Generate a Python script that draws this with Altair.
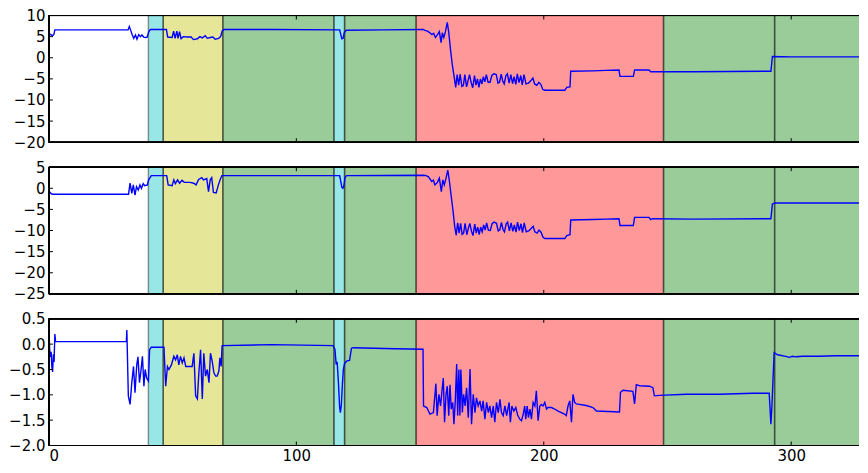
import altair as alt
import pandas as pd

# ---------------- data ----------------
x_ticks = [0, 100, 200, 300]

span_start = [40.2, 46.2, 70.3, 115.2, 119.5, 148.4, 248.4, 293.3]
span_end = [46.2, 70.3, 115.2, 119.5, 148.4, 248.4, 293.3, 340.0]
span_color = ["#99e6e6", "#e6e699", "#99cc99", "#99e6e6", "#99cc99", "#ff9999", "#99cc99", "#99cc99"]
edges = [40.2, 46.2, 70.3, 115.2, 119.5, 148.4, 248.4, 293.3,
         46.2, 70.3, 115.2, 119.5, 148.4, 248.4, 293.3]

p1_x = [0.0, 0.3, 1.0, 1.5, 2.0, 2.4, 10.0, 20.0, 32.0, 32.5, 33.0, 33.7, 34.3, 35.0, 35.6, 36.3, 37.0, 37.6,
        38.3, 39.0, 39.7, 40.4, 41.0, 47.5, 48.0, 49.8, 50.4, 51.0, 51.7, 52.2, 52.8, 53.4, 54.3, 55.9, 57.5,
        58.4, 60.0, 61.0, 62.0, 63.2, 64.0, 65.2, 66.3, 67.2, 68.6, 69.4, 70.0, 70.7, 90.0, 117.5, 118.0, 118.4,
        118.9, 119.4, 120.2, 135.0, 151.3, 152.0, 153.0, 154.0, 154.8, 155.5, 156.2, 157.0, 157.8, 158.5, 159.0,
        159.6, 160.3, 161.0, 161.6, 162.3, 163.0, 163.8, 164.4, 165.0, 165.6, 166.2, 166.9, 167.5, 168.1, 168.8,
        169.4, 170.0, 170.7, 171.3, 172.0, 172.6, 173.2, 173.8, 174.4, 175.0, 175.6, 176.2, 176.8, 177.5, 178.3,
        179.0, 179.8, 180.8, 181.5, 182.1, 182.8, 183.4, 184.0, 184.7, 185.3, 186.0, 186.7, 187.4, 188.0, 188.7,
        189.3, 190.0, 190.7, 191.3, 192.0, 192.8, 193.8, 194.8, 195.6, 196.3, 197.2, 198.0, 198.8, 199.6, 200.5,
        208.5, 209.3, 210.6, 210.9, 220.0, 225.0, 230.4, 230.8, 236.2, 236.7, 242.5, 243.2, 260.0, 291.8, 292.4,
        300.0, 331.0]
p1_y = [4.0, 5.7, 5.4, 5.2, 5.5, 6.6, 6.6, 6.6, 6.6, 7.4, 6.6, 5.4, 4.6, 5.4, 4.4, 5.5, 5.0, 5.4,
        4.9, 4.8, 4.9, 6.2, 6.7, 6.7, 4.9, 4.8, 6.3, 4.6, 6.3, 4.6, 6.2, 4.5, 5.0, 4.9, 4.9,
        4.3, 4.5, 5.0, 4.7, 5.2, 4.6, 4.8, 4.9, 4.4, 4.6, 5.0, 6.3, 6.7, 6.7, 6.6, 5.4, 4.5,
        4.6, 6.0, 6.5, 6.6, 6.7, 6.5, 6.3, 5.9, 5.5, 5.8, 4.8, 5.4, 6.2, 3.6, 5.9,
        4.8, 6.3, 8.4, 6.0, 2.0, -1.5, -4.6, -7.0, -4.0, -6.5, -3.9, -6.8, -6.6, -4.0, -6.9,
        -5.4, -4.0, -6.0, -7.1, -4.2, -6.5, -5.0, -7.0, -5.0, -6.2, -4.5, -5.7, -4.0, -5.8, -5.8,
        -4.2, -3.8, -4.0, -6.0, -5.8, -3.9, -5.5, -6.2, -4.2, -3.8, -6.0, -4.0, -6.1, -4.5, -6.3,
        -3.8, -5.9, -4.2, -6.4, -4.0, -6.2, -6.0, -5.4, -4.8, -6.2, -6.5, -5.8, -6.3, -7.5, -7.7,
        -7.7, -7.0, -6.9, -3.2, -3.1, -3.0, -2.9, -4.4, -4.4, -2.9, -2.9, -3.3, -3.3, -3.2, 0.3,
        0.2, 0.2]

p2_x = [0.0, 0.3, 1.0, 1.6, 32.2, 32.8, 33.5, 34.1, 34.8, 35.4, 36.1, 36.8, 37.4, 38.1, 38.7, 39.8, 40.3,
        41.4, 47.6, 48.2, 49.8, 50.5, 51.1, 52.0, 52.8, 53.8, 54.7, 57.1, 58.5, 59.5, 60.5, 61.8, 62.5, 63.8,
        64.5, 65.2, 65.8, 66.5, 67.6, 68.5, 69.2, 69.9, 117.5, 118.0, 118.4, 118.8, 119.2, 119.7, 120.3, 151.3,
        152.5, 153.4, 154.7, 155.4, 156.0, 157.0, 157.8, 158.6, 159.2, 159.8, 160.5, 161.2, 161.8, 162.4, 163.2,
        164.0, 164.6, 165.2, 165.8, 166.4, 167.0, 167.6, 168.2, 168.9, 169.5, 170.1, 170.8, 171.4, 172.1, 172.7,
        173.3, 173.9, 174.5, 175.1, 175.7, 176.3, 176.9, 177.6, 178.4, 179.1, 179.9, 180.9, 181.6, 182.2, 182.9,
        183.5, 184.1, 184.8, 185.4, 186.1, 186.8, 187.5, 188.1, 188.8, 189.4, 190.1, 190.8, 191.4, 192.1, 192.9,
        193.9, 194.9, 195.7, 196.4, 197.3, 198.1, 198.9, 199.7, 200.5, 208.5, 209.3, 210.6, 210.9, 220.0, 225.0,
        230.4, 230.8, 236.2, 236.7, 242.5, 243.2, 244.0, 260.0, 291.8, 292.4, 293.5, 331.0]
p2_y = [-0.2, -0.9, -1.3, -1.4, -1.4, 1.2, -1.2, 0.8, -1.6, 0.4, -0.4, 0.8, 0.0, 1.1, 0.6, 0.8, 2.0,
        3.0, 3.0, 0.8, 0.6, 2.0, 1.1, 2.0, 1.2, 1.9, 1.4, 1.4, 1.2, 0.8, 2.1, 2.5, 2.0, 2.3,
        -0.8, 2.0, 2.5, -1.0, -1.1, 0.8, 2.0, 3.0, 3.0, 1.5, 0.2, 0.0, 0.6, 2.6, 3.0, 3.1,
        3.0, 2.7, 1.6, 1.9, 0.8, 1.4, 2.4, -0.8, 2.0, 0.8, 2.4, 4.3, 2.0, -1.0, -4.7,
        -9.0, -11.1, -8.2, -10.6, -8.3, -10.9, -10.6, -8.3, -11.0, -9.5, -8.3, -10.2, -11.2, -8.5, -10.6,
        -9.2, -11.0, -9.2, -10.3, -8.7, -9.9, -8.2, -9.9, -10.0, -8.4, -8.0, -8.3, -10.1, -9.9, -8.1,
        -9.7, -10.3, -8.4, -8.0, -10.1, -8.2, -10.2, -8.7, -10.4, -8.0, -10.0, -8.4, -10.5, -8.2, -10.3,
        -10.1, -9.5, -9.0, -10.3, -10.6, -9.9, -10.4, -11.6, -11.9, -11.9, -11.2, -11.0, -7.5, -7.4, -7.3,
        -7.2, -8.8, -8.8, -6.9, -6.9, -7.4, -7.2, -7.3, -7.2, -3.7, -3.5, -3.5]

p3_x = [0.0, 0.3, 0.6, 0.9, 1.2, 1.5, 1.8, 2.1, 2.4, 2.7, 31.3, 31.5, 32.1, 32.8, 33.5, 34.2, 34.8, 35.5,
        36.0, 36.6, 37.1, 37.8, 38.4, 38.9, 39.5, 40.2, 40.7, 41.4, 46.5, 47.2, 47.9, 48.5, 49.5, 50.5, 51.2,
        51.9, 52.5, 53.2, 53.9, 54.6, 55.3, 57.9, 58.6, 59.3, 60.0, 60.6, 61.3, 62.0, 62.6, 63.3, 64.0, 64.7,
        65.3, 66.0, 66.7, 67.4, 68.0, 68.7, 69.1, 69.6, 70.0, 90.0, 114.8, 115.6, 116.1, 116.5, 117.0, 117.5,
        117.8, 118.2, 118.6, 119.0, 119.5, 120.5, 121.5, 122.3, 123.0, 140.0, 151.2, 151.4, 152.7, 154.0,
        155.4, 156.4, 156.9, 157.6, 158.3, 158.8, 159.4, 159.9, 160.5, 161.0, 161.6, 162.1, 162.6, 163.2,
        163.7, 164.2, 164.8, 165.2, 165.7, 166.1, 166.5, 167.1, 167.6, 168.2, 168.8, 169.5, 170.2, 170.8,
        171.5, 172.2, 172.8, 173.5, 174.2, 174.9, 175.5, 176.2, 176.9, 177.6, 178.2, 178.9, 179.6, 180.2,
        180.9, 181.6, 182.3, 182.9, 183.6, 184.3, 185.0, 186.0, 186.5, 187.1, 187.9, 188.7, 189.5, 190.3,
        191.0, 191.7, 192.3, 192.7, 193.3, 193.8, 194.4, 195.0, 195.7, 196.4, 197.0, 197.7, 198.4, 199.0,
        199.7, 200.4, 201.1, 201.7, 203.1, 204.4, 205.8, 207.1, 208.4, 209.1, 209.8, 210.5, 211.2, 211.8,
        212.5, 213.2, 217.2, 219.9, 221.3, 230.6, 231.0, 232.0, 236.0, 236.7, 237.4, 238.7, 242.7, 244.1,
        244.7, 246.8, 257.5, 271.0, 284.4, 291.1, 291.8, 292.2, 293.1, 294.5, 297.8, 299.2, 300.5, 301.9,
        304.6, 311.3, 318.0, 324.7, 331.0]
p3_y = [0.38, -0.10, -0.25, -0.15, -0.45, -0.55, -0.20, -0.35, 0.20, 0.05, 0.05, 0.28, -1.02, -1.19, -0.76,
        -0.44, -0.96, -0.41, -0.25, -0.76, -0.57, -0.24, -0.83, -0.50, -0.67, -0.73, -0.11, -0.06, -0.06,
        -0.83, -0.44, -0.50, -0.41, -0.24, -0.31, -0.21, -0.41, -0.24, -0.37, -0.27, -0.44, -0.44, -0.18,
        -1.02, -1.08, -0.57, -0.11, -1.08, -0.18, -0.63, -0.50, -0.76, -0.18, -0.34, -0.57, -0.63, -0.63,
        -0.53, -0.27, -0.44, -0.03, -0.01, -0.03, -0.10, -0.40, -0.35, -0.75, -1.25, -1.35, -1.20, -0.80,
        -0.50, -0.38, -0.33, -0.32, -0.08, -0.07, -0.09, -0.10, -1.22, -1.25, -1.38,
        -1.35, -0.78, -1.41, -0.99, -1.22, -0.95, -0.67, -1.54, -0.99, -0.83, -1.41, -0.80, -1.28, -1.15,
        -1.58, -1.15, -0.39, -1.41, -0.50, -1.41, -0.50, -1.35, -0.99, -1.22, -0.86, -1.45, -0.49, -1.58,
        -0.99, -1.35, -1.06, -1.22, -1.12, -1.32, -1.12, -1.48, -1.15, -1.35, -1.22, -1.45, -1.22, -1.54,
        -1.15, -1.35, -1.09, -1.35, -1.41, -1.22, -1.41, -1.15, -1.54, -1.22, -1.32, -1.25, -1.41, -1.48,
        -1.51, -1.38, -1.22, -1.48, -1.22, -1.45, -1.28, -1.48, -1.15, -1.22, -0.92, -1.51, -1.22, -1.19,
        -1.22, -1.15, -1.28, -1.25, -1.25, -1.28, -1.32, -1.35, -1.38, -1.41, -1.22, -1.12, -1.54, -0.99,
        -1.15, -1.18, -1.21, -1.25, -1.32, -1.34, -0.95, -0.91, -0.93, -1.18, -0.80, -0.82, -0.83, -0.86,
        -1.02, -1.01, -0.99, -0.99, -0.97, -0.97, -1.58, -1.22, -0.17, -0.21, -0.24, -0.26, -0.24, -0.25,
        -0.24, -0.24, -0.23, -0.23, -0.23]

p1_yticks = [-20, -15, -10, -5, 0, 5, 10]
p2_yticks = [-25, -20, -15, -10, -5, 0, 5]
p3_yticks = [-2.0, -1.5, -1.0, -0.5, 0.0, 0.5]

# ---------------- chart ----------------
W, H = 812, 127
XMAX = 327.4
FONT = "DejaVu Sans"

xscale = alt.Scale(domain=[0, XMAX], nice=False, zero=False)
span_df = pd.DataFrame({"x": span_start, "x2": span_end, "c": span_color})
edge_df = pd.DataFrame({"x": edges})
xtick_df = pd.DataFrame({"v": x_ticks})


def panel(xs, ys, yticks, yfmt, show_x):
    ydom = [min(yticks), max(yticks)]
    yscale = alt.Scale(domain=ydom, nice=False, zero=False)
    if show_x:
        xaxis = alt.Axis(values=x_ticks, format="d", title=None, labelPadding=3,
                         labelFont=FONT, labelFontSize=15, labelColor="black")
    else:
        xaxis = None
    yaxis = alt.Axis(values=yticks, format=yfmt, title=None, labelPadding=4,
                     labelFont=FONT, labelFontSize=15, labelColor="black",
                     minExtent=40, maxExtent=40)
    X = lambda f: alt.X(f, scale=xscale, axis=xaxis)
    Y = lambda f: alt.Y(f, scale=yscale, axis=yaxis)

    line_df = pd.DataFrame({"x": xs, "y": ys})
    ytick_df = pd.DataFrame({"v": yticks})

    spans = alt.Chart(span_df).mark_rect(clip=True).encode(
        x=X("x:Q"), x2="x2:Q", y=alt.value(0), y2=alt.value(H),
        color=alt.Color("c:N", scale=None))
    edge_rules = alt.Chart(edge_df).mark_rule(color="black", opacity=0.4, strokeWidth=1.5).encode(
        x=X("x:Q"), y=alt.value(0), y2=alt.value(H))
    line = alt.Chart(line_df).mark_line(color="#0000ff", strokeWidth=1.4, clip=True).encode(
        x=X("x:Q"), y=Y("y:Q"), order="x:Q")
    lt = alt.Chart(ytick_df).mark_rule(color="black").encode(
        y=Y("v:Q"), x=alt.value(0), x2=alt.value(4))
    tt = alt.Chart(xtick_df).mark_rule(color="black").encode(
        x=X("v:Q"), y=alt.value(0), y2=alt.value(4))
    bt = alt.Chart(xtick_df).mark_rule(color="black").encode(
        x=X("v:Q"), y=alt.value(H - 4), y2=alt.value(H))
    frame_top = alt.Chart(span_df).mark_rule(color="black", strokeWidth=1).encode(
        y=alt.value(0), x=alt.value(0), x2=alt.value(W))
    frame_bot = alt.Chart(span_df).mark_rule(color="black", strokeWidth=1).encode(
        y=alt.value(H), x=alt.value(0), x2=alt.value(W))
    frame_left = alt.Chart(span_df).mark_rule(color="black", strokeWidth=1).encode(
        x=alt.value(0), y=alt.value(0), y2=alt.value(H))
    return alt.layer(spans, edge_rules, line, lt, tt, bt, frame_top, frame_bot, frame_left).properties(
        width=W, height=H)


c1 = panel(p1_x, p1_y, p1_yticks, "d", False)
c2 = panel(p2_x, p2_y, p2_yticks, "d", False)
c3 = panel(p3_x, p3_y, p3_yticks, ".1f", True)

chart = alt.vconcat(c1, c2, c3, spacing=25, bounds="flush").properties(
    padding={"left": 0, "top": 0, "right": 0, "bottom": 0}
).configure_view(stroke="transparent", strokeWidth=0).configure_axis(
    domain=False, ticks=False, tickSize=0, grid=False
)

chart.save("out.html", embed_options={"renderer": "svg", "actions": False})
